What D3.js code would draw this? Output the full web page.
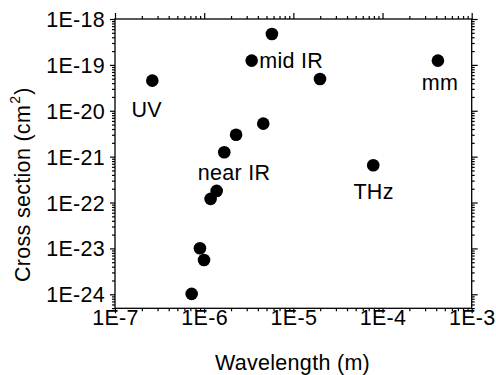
<!DOCTYPE html>
<html><head><meta charset="utf-8">
<script src="https://cdn.jsdelivr.net/npm/d3@7"></script>
<style>
body{margin:0;background:#fff}
text{font-family:"Liberation Sans",Arial,Helvetica,sans-serif;fill:#000}
</style>
</head><body>
<svg id="c" width="496" height="375"></svg>
<script>
// ---- data ----
const wavelengths   = [2.62e-7, 7.24e-7, 8.97e-7, 9.96e-7, 1.18e-6, 1.38e-6, 1.68e-6, 2.28e-6, 3.41e-6, 4.6e-6, 5.75e-6, 1.99e-5, 7.87e-5, 4.18e-4];
const crossSections = [4.53e-20, 1.02e-24, 1.01e-23, 5.6e-24, 1.2e-22, 1.79e-22, 1.25e-21, 3.0e-21, 1.24e-19, 5.24e-21, 4.7e-19, 4.93e-20, 6.5e-22, 1.24e-19];
const regionNames  = ["UV", "near IR", "mid IR", "THz", "mm"];
const regionX      = [2.27e-7, 2.16e-6, 4.15e-6, 7.94e-5, 4.4e-4];
const regionY      = [7.45e-21, 3.1e-22, 8.43e-20, 1.2e-22, 2.84e-20];
const regionAnchor = ["middle", "middle", "start", "middle", "middle"];
const xTickValues = [1e-7, 1e-6, 1e-5, 1e-4, 1e-3];
const xTickLabels = ["1E-7", "1E-6", "1E-5", "1E-4", "1E-3"];
const yTickValues = [1e-24, 1e-23, 1e-22, 1e-21, 1e-20, 1e-19, 1e-18];
const yTickLabels = ["1E-24", "1E-23", "1E-22", "1E-21", "1E-20", "1E-19", "1E-18"];
const xTitle = "Wavelength (m)";
const yTitle = "Cross section (cm";
const yTitleSup = "2";

// ---- layout ----
const W = 496, H = 375;
const L = 115, R = 471.7, T = 19, B = 308.3;
const FS = 21.5, LS = "0.3px";
const svg = d3.select("#c");

const x = d3.scaleLog().domain([1e-7, 1e-3]).range([L, R]);
const y = d3.scaleLog().domain([4.95e-25, 1e-18]).range([B, T]);

function minors(dom) {
  const out = [];
  const lo = Math.floor(Math.log10(dom[0])), hi = Math.ceil(Math.log10(dom[1]));
  for (let e = lo; e < hi; e++) for (let m = 2; m <= 9; m++) {
    const v = m * Math.pow(10, e);
    if (v >= dom[0] && v <= dom[1]) out.push(v);
  }
  return out;
}
const xMin = minors(x.domain()), yMin = minors(y.domain());

function styleAxis(g) {
  g.select(".domain").remove();
  g.selectAll("line").attr("stroke", "#000").attr("stroke-width", 1.2);
}

// minor ticks
svg.append("g").attr("transform", `translate(0,${B})`)
  .call(d3.axisBottom(x).tickValues(xMin).tickSize(3).tickFormat("")).call(styleAxis);
svg.append("g").attr("transform", `translate(0,${T})`)
  .call(d3.axisTop(x).tickValues(xMin).tickSize(3).tickFormat("")).call(styleAxis);
svg.append("g").attr("transform", `translate(${L},0)`)
  .call(d3.axisLeft(y).tickValues(yMin).tickSize(3).tickFormat("")).call(styleAxis);
svg.append("g").attr("transform", `translate(${R},0)`)
  .call(d3.axisRight(y).tickValues(yMin).tickSize(3).tickFormat("")).call(styleAxis);

// major ticks
const gx = svg.append("g").attr("transform", `translate(0,${B})`)
  .call(d3.axisBottom(x).tickValues(xTickValues).tickSize(5).tickFormat((d, i) => xTickLabels[i])).call(styleAxis);
gx.selectAll("text").attr("y", 17).attr("dy", null)
  .attr("font-size", FS).attr("font-family", null).attr("letter-spacing", LS);
svg.append("g").attr("transform", `translate(0,${T})`)
  .call(d3.axisTop(x).tickValues(xTickValues).tickSize(6).tickFormat("")).call(styleAxis);
const gy = svg.append("g").attr("transform", `translate(${L},0)`)
  .call(d3.axisLeft(y).tickValues(yTickValues).tickSize(5).tickFormat((d, i) => yTickLabels[i])).call(styleAxis);
gy.selectAll("text").attr("x", -10).attr("dy", "0.35em")
  .attr("font-size", FS).attr("font-family", null).attr("letter-spacing", LS);
svg.append("g").attr("transform", `translate(${R},0)`)
  .call(d3.axisRight(y).tickValues(yTickValues).tickSize(6).tickFormat("")).call(styleAxis);

// frame
svg.append("rect").attr("x", L).attr("y", T).attr("width", R - L).attr("height", B - T)
  .attr("fill", "none").attr("stroke", "#000").attr("stroke-width", 1.3);

// points
svg.append("g").selectAll("circle").data(wavelengths).join("circle")
  .attr("cx", d => x(d)).attr("cy", (d, i) => y(crossSections[i]))
  .attr("r", 6.3).attr("fill", "#000");

// region labels
svg.append("g").selectAll("text").data(regionNames).join("text")
  .attr("x", (d, i) => x(regionX[i])).attr("y", (d, i) => y(regionY[i]))
  .attr("text-anchor", (d, i) => regionAnchor[i])
  .attr("font-size", FS).attr("letter-spacing", LS).text(d => d);

// axis titles
svg.append("text").attr("x", 292.5).attr("y", 369.5)
  .attr("text-anchor", "middle").attr("font-size", FS).attr("letter-spacing", LS).text(xTitle);
const yt = svg.append("text").attr("transform", `translate(30,282) rotate(-90)`)
  .attr("text-anchor", "start").attr("font-size", FS).attr("letter-spacing", LS);
yt.append("tspan").text(yTitle);
yt.append("tspan").attr("font-size", 14).attr("dx", 1).attr("dy", -10).text(yTitleSup);
yt.append("tspan").attr("dx", 1).attr("dy", 10).text(")");
</script>
</body></html>
